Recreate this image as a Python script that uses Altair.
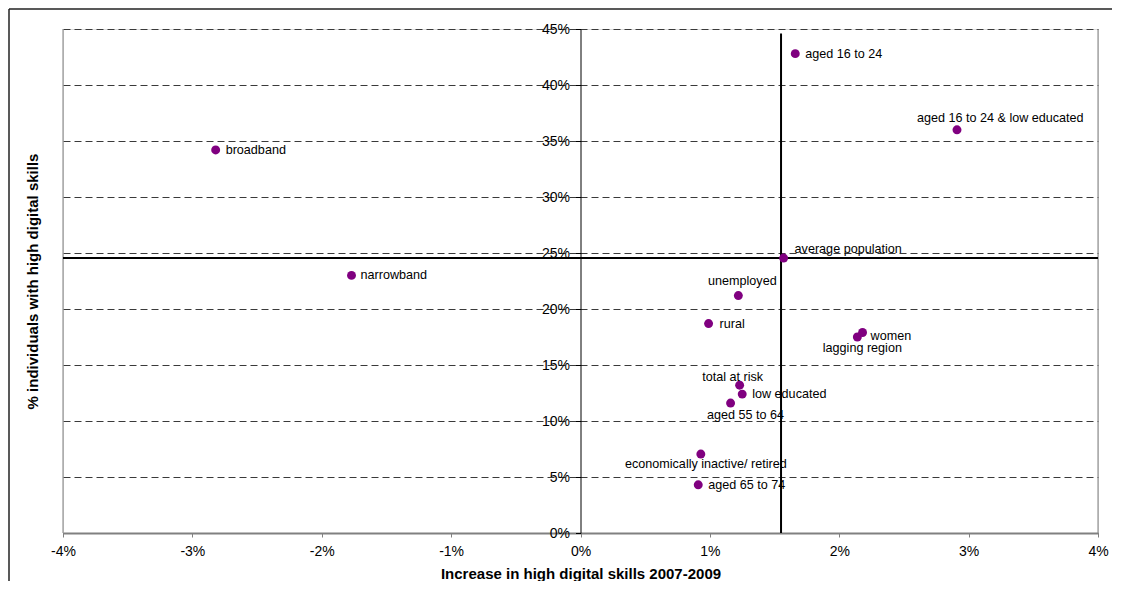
import altair as alt
import pandas as pd

# ---- data ----
groups = [
    "broadband", "narrowband", "aged 16 to 24", "aged 16 to 24 & low educated",
    "average population", "unemployed", "rural", "women", "lagging region",
    "total at risk", "low educated", "aged 55 to 64",
    "economically inactive/ retired", "aged 65 to 74",
]
increase = [-2.82, -1.77, 1.66, 2.91, 1.57, 1.22, 0.99, 2.18, 2.14,
            1.23, 1.25, 1.16, 0.93, 0.91]          # % points, 2007-2009
share = [34.2, 23.0, 42.8, 36.0, 24.55, 21.2, 18.7, 17.9, 17.5,
         13.2, 12.4, 11.6, 7.05, 4.3]              # % with high digital skills

ref_x = 1.55      # vertical reference line (average increase)
ref_y = 24.55     # horizontal reference line (average share)
ref_top = 44.6

x_ticks = [-4, -3, -2, -1, 0, 1, 2, 3, 4]
y_ticks = [0, 5, 10, 15, 20, 25, 30, 35, 40, 45]

df = pd.DataFrame({"group": groups, "increase": increase, "share": share})

# ---- layout / style ----
W, H = 1035, 504
FONT = "Liberation Sans"
PURPLE = "#800080"
zero_px = W / 2  # x = 0% position inside the plot

x_scale = alt.Scale(domain=[-4, 4], nice=False, zero=False)
y_scale = alt.Scale(domain=[0, 45], nice=False, zero=False)

x_axis = alt.Axis(
    values=x_ticks, labelExpr="datum.value + '%'", labelFlush=False,
    title="Increase in high digital skills 2007-2009",
    grid=False, domainColor="#808080", domainWidth=2,
    tickColor="#808080", tickSize=4, tickWidth=1,
    labelPadding=7, labelFontSize=14, labelColor="black", labelFont=FONT,
    titleFont=FONT, titleFontSize=15, titleFontWeight="bold", titleColor="black",
    titleX=zero_px, titleY=40, titleBaseline="middle", titleAlign="center",
)
y_axis = alt.Axis(
    values=y_ticks, labelExpr="datum.value + '%'", labelFlush=False,
    offset=-zero_px,
    grid=True, gridDash=[7, 4], gridColor="#3a3a3a", gridWidth=1,
    domainColor="black", domainWidth=1,
    tickColor="black", tickSize=5, tickWidth=1,
    labelPadding=6, labelFontSize=14, labelColor="black", labelFont=FONT,
    title="% individuals with high digital skills",
    titleFont=FONT, titleFontSize=15, titleFontWeight="bold", titleColor="black",
    titleX=-(zero_px + 31), titleY=H / 2, titleAngle=270,
    titleAlign="center", titleBaseline="middle",
)

base = alt.Chart(df)

points = base.mark_circle(size=80, color=PURPLE, opacity=1).encode(
    x=alt.X("increase:Q", scale=x_scale, axis=x_axis),
    y=alt.Y("share:Q", scale=y_scale, axis=y_axis),
)

# reference lines
ref_df = pd.DataFrame({"rx": [ref_x], "ry": [ref_y], "y0": [0.0], "ytop": [ref_top],
                       "x0": [-4.0], "x1": [4.0]})
vline = alt.Chart(ref_df).mark_rule(color="black", strokeWidth=2).encode(
    x=alt.X("rx:Q", scale=x_scale),
    y=alt.Y("y0:Q", scale=y_scale),
    y2="ytop:Q",
)
hline = alt.Chart(ref_df).mark_rule(color="black", strokeWidth=2).encode(
    y=alt.Y("ry:Q", scale=y_scale),
    x=alt.X("x0:Q", scale=x_scale),
    x2="x1:Q",
)

# plot-area side borders
left_edge = alt.Chart(ref_df).mark_rule(color="#808080", strokeWidth=1).encode(
    x=alt.value(0), y=alt.value(0), y2=alt.value(H))
right_edge = alt.Chart(ref_df).mark_rule(color="#808080", strokeWidth=1).encode(
    x=alt.value(W), y=alt.value(0), y2=alt.value(H))

# outer chart border (top and left visible)
top_border = alt.Chart(ref_df).mark_rule(color="#222222", strokeWidth=1.5).encode(
    x=alt.value(-54), x2=alt.value(W + 30), y=alt.value(-20))
left_border = alt.Chart(ref_df).mark_rule(color="#222222", strokeWidth=1.5).encode(
    x=alt.value(-54), y=alt.value(-20), y2=alt.value(H + 70))

# label placement: (align, dx, dy)
placement = {
    "broadband": ("left", 10, 0),
    "narrowband": ("left", 9, 0),
    "aged 16 to 24": ("left", 10, 0),
    "aged 16 to 24 & low educated": ("left", -40, -12),
    "average population": ("left", 11, -9),
    "unemployed": ("center", 4, -15),
    "rural": ("left", 11, 0),
    "women": ("left", 8, 3),
    "lagging region": ("center", 5, 11),
    "total at risk": ("center", -7, -8),
    "low educated": ("left", 10, 0),
    "aged 55 to 64": ("center", 15, 12),
    "economically inactive/ retired": ("center", 5, 10),
    "aged 65 to 74": ("left", 10, 0),
}

label_layers = []
for g in groups:
    align, dx, dy = placement[g]
    label_layers.append(
        base.transform_filter(alt.datum.group == g).mark_text(
            align=align, baseline="middle", dx=dx, dy=dy,
            font=FONT, fontSize=12.6, color="black",
        ).encode(
            x=alt.X("increase:Q", scale=x_scale),
            y=alt.Y("share:Q", scale=y_scale),
            text="group:N",
        )
    )

chart = alt.layer(
    left_edge, right_edge, hline, vline, points, *label_layers,
    top_border, left_border,
).properties(
    width=W, height=H,
    autosize=alt.AutoSizeParams(type="none"),
    padding={"left": 55, "top": 21, "right": 14, "bottom": 48},
    background="white",
).configure_view(stroke=None).configure(font=FONT)

chart.save("out.html", embed_options={"renderer": "svg", "actions": False})
